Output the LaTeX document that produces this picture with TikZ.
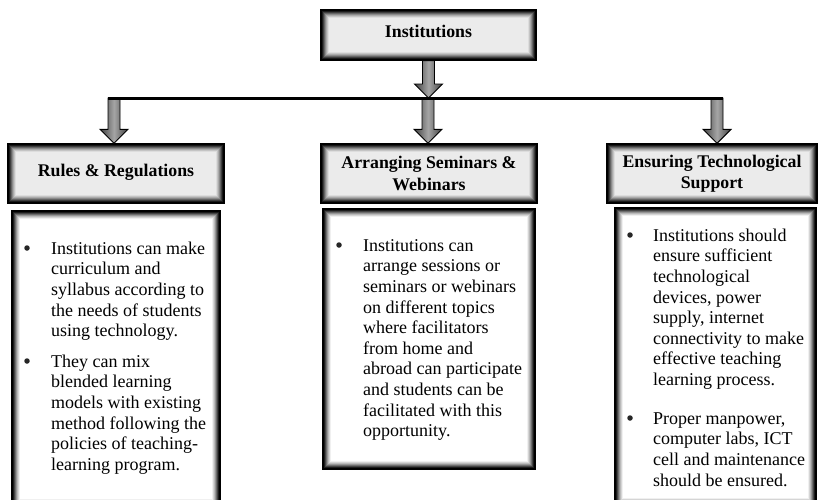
\documentclass[tikz,border=0pt]{standalone}
\usepackage{fontspec}
\setmainfont{Liberation Serif}
\usetikzlibrary{calc}
\tikzset{
  shadowframe/.style={draw=black, line width=1.3pt, fill=#1,
    path picture={
      \foreach \i/\o in {1/0.75,2/0.55,3/0.4,4/0.28,5/0.18,6/0.11,7/0.06}{
        \draw[black, draw opacity=\o, line width=1.15pt]
          ([shift={(\i pt,\i pt)}]path picture bounding box.south west) rectangle
          ([shift={(-\i pt,-\i pt)}]path picture bounding box.north east);
      }}},
  hdr/.style={shadowframe=black!8, inner sep=0pt, align=center,
    font=\fontsize{17.8}{21.5}\selectfont\bfseries},
  bodybox/.style={shadowframe=white, inner sep=0pt},
  bodytext/.style={anchor=north west, inner sep=0pt, align=left,
    font=\fontsize{18}{20.6}\selectfont},
  bul/.style={circle, fill=black!85, inner sep=0pt, minimum size=5.5pt},
  fatarr/.style={draw=black, line width=0.9pt, line join=miter,
    left color=black!75, right color=black!75, middle color=black!35},
  busline/.style={draw=black, line width=3pt},
}
\newcommand\fatarrow[2]{%
  \path[fatarr] let \p1=(#1), \p2=(#2) in
    (\x1-6pt,\y1) -- (\x1-6pt,\y2+14pt) -- (\x1-14pt,\y2+14pt) -- (\x1,\y2)
    -- (\x1+14pt,\y2+14pt) -- (\x1+6pt,\y2+14pt) -- (\x1+6pt,\y1) -- cycle;}
\begin{document}
\begin{tikzpicture}[x=1pt,y=-1pt]
\clip (0,0) rectangle (819,499);
\fill[white] (0,0) rectangle (819,499);

% top node
\node[hdr, minimum width=215pt, minimum height=50pt, text depth=8pt] (inst) at (428.5,35) {Institutions};

% headers
\node[hdr, minimum width=216pt, minimum height=59pt, text depth=6pt] (h1) at (116,173.5) {Rules \& Regulations};
\node[hdr, minimum width=216pt, minimum height=59pt] (h2) at (429,173.5) {Arranging Seminars \&\\Webinars};
\node[hdr, minimum width=210pt, minimum height=59pt] (h3) at (712,173.5) {Ensuring Technological\\Support};

% body boxes
\node[bodybox, minimum width=208pt, minimum height=296pt] (b1) at (116,359) {};
\node[bodybox, minimum width=212pt, minimum height=260pt] (b2) at (429,339) {};
\node[bodybox, minimum width=201pt, minimum height=298pt] (b3) at (715.5,357) {};

% bus coordinates
\coordinate (busL) at (114,98);
\coordinate (busM) at (428,98);
\coordinate (busR) at (717,98);

% arrows
\fatarrow{inst.south}{busM}
\fatarrow{busM}{busM |- h2.north}
\fatarrow{busL}{busL |- h1.north}
\fatarrow{busR}{busR |- h3.north}
\draw[busline] ([xshift=-6pt]busL) -- ([xshift=6pt]busR);

% left body text
\node[bul] (l1b) at (27,248) {};
\node[bodytext] (l1) at (51,239.6) {\strut Institutions can make\\curriculum and\\syllabus according to\\the needs of students\\using technology.};
\node[bul] (l2b) at (27,361) {};
\node[bodytext] (l2) at (51,352.6) {\strut They can mix\\blended learning\\models with existing\\method following the\\policies of teaching-\\learning program.};

% middle body text
\node[bul] (m1b) at (339,245) {};
\node[bodytext] (m1) at (363,236.6) {\strut Institutions can\\arrange sessions or\\seminars or webinars\\on different topics\\where facilitators\\from home and\\abroad can participate\\and students can be\\facilitated with this\\opportunity.};

% right body text
\node[bul] (r1b) at (630,235) {};
\node[bodytext] (r1) at (653,226.6) {\strut Institutions should\\ensure sufficient\\technological\\devices, power\\supply, internet\\connectivity to make\\effective teaching\\learning process.};
\node[bul] (r2b) at (630,418) {};
\node[bodytext] (r2) at (653,409.6) {\strut Proper manpower,\\computer labs, ICT\\cell and maintenance\\should be ensured.};
\end{tikzpicture}
\end{document}
